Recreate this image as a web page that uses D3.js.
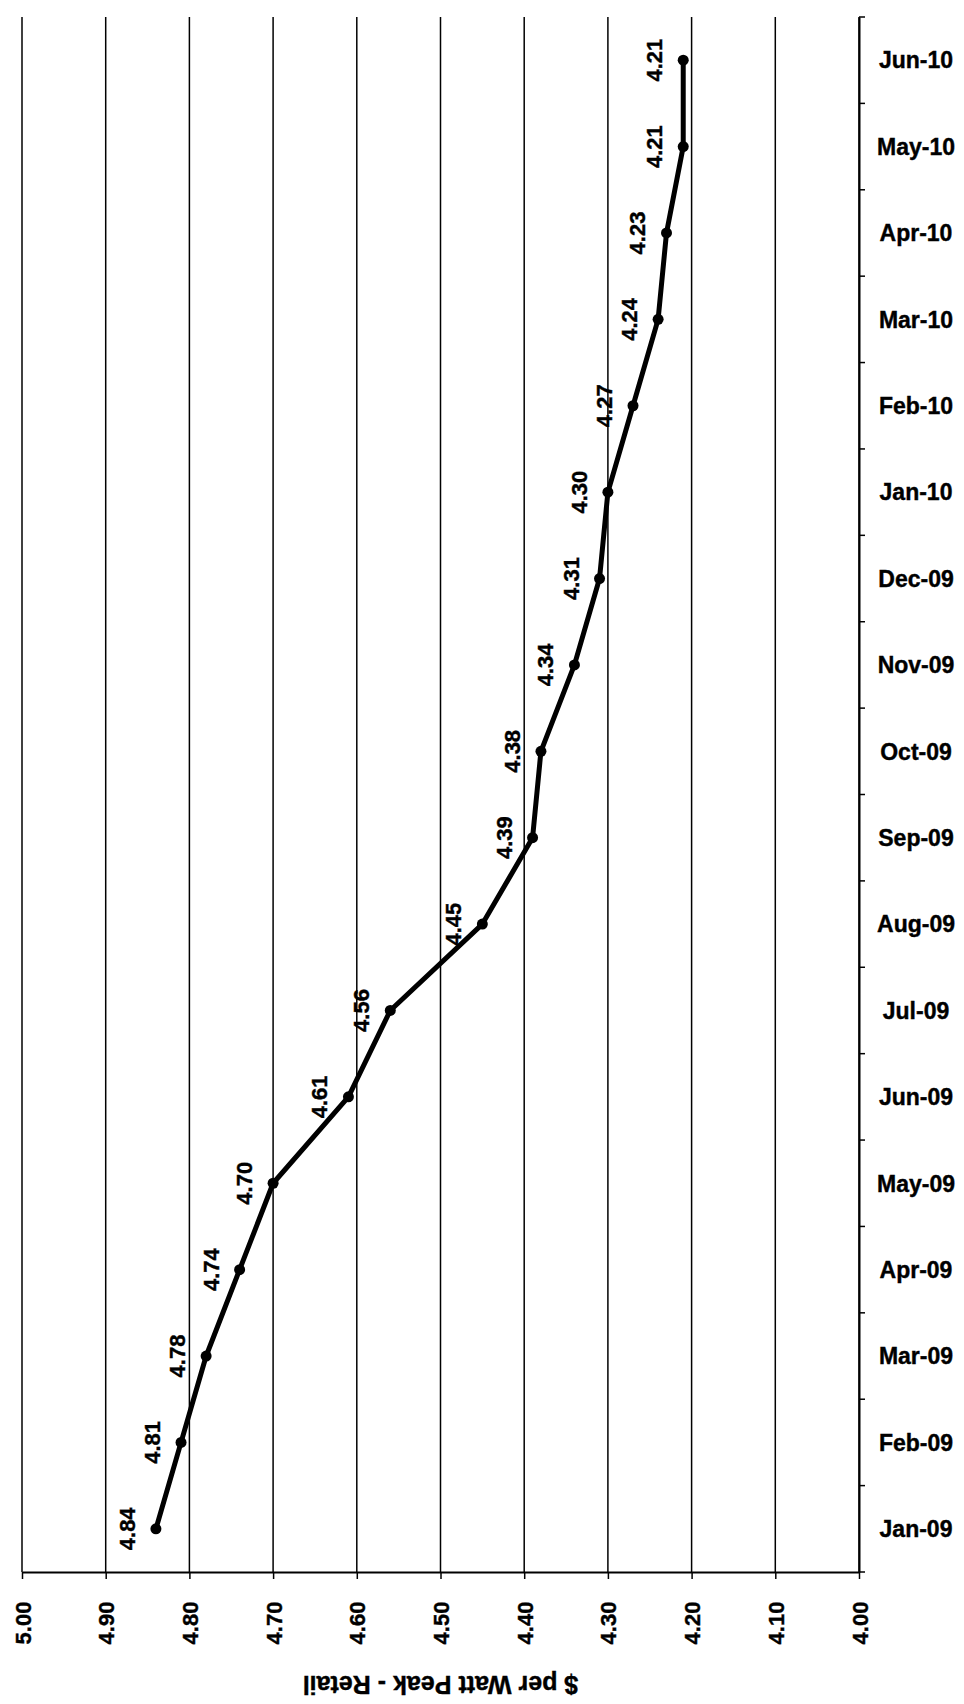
<!DOCTYPE html>
<html>
<head>
<meta charset="utf-8">
<script src="https://cdn.jsdelivr.net/npm/d3@7"></script>
<style>
  html, body { margin: 0; padding: 0; background: #fff; }
  svg { display: block; }
  text { font-family: "Liberation Sans", Arial, sans-serif; font-weight: bold; fill: #000;
         stroke: #000; stroke-width: 0.4px; }
</style>
</head>
<body>
<div id="chart"></div>
<script>
// Monthly retail price, $ per watt peak (chart drawn turned on its side)
const months = ["Jan-09","Feb-09","Mar-09","Apr-09","May-09","Jun-09","Jul-09","Aug-09","Sep-09",
                "Oct-09","Nov-09","Dec-09","Jan-10","Feb-10","Mar-10","Apr-10","May-10","Jun-10"];
const prices = [4.84, 4.81, 4.78, 4.74, 4.70, 4.61, 4.56, 4.45, 4.39,
                4.38, 4.34, 4.31, 4.30, 4.27, 4.24, 4.23, 4.21, 4.21];
const valueTicks = [5.00, 4.90, 4.80, 4.70, 4.60, 4.50, 4.40, 4.30, 4.20, 4.10, 4.00];
const axisTitle = "$ per Watt Peak - Retail";

const W = 964, H = 1704;
const plot = { left: 22, right: 859, top: 17, bottom: 1572 };

const svg = d3.select("#chart").append("svg").attr("width", W).attr("height", H);

const x = d3.scaleLinear().domain([5.0, 4.0]).range([plot.left, plot.right]);
const y = d3.scaleBand().domain(months.slice().reverse()).range([plot.top, plot.bottom]).padding(0);
const cy = m => y(m) + y.bandwidth() / 2;

// vertical gridlines
svg.append("g").selectAll("line").data(valueTicks).join("line")
  .attr("x1", d => x(d)).attr("x2", d => x(d))
  .attr("y1", plot.top).attr("y2", plot.bottom)
  .attr("stroke", "#000").attr("stroke-width", 1.5);

// value axis along the bottom
const xAxis = svg.append("g").attr("transform", `translate(0,${plot.bottom})`)
  .call(d3.axisBottom(x).tickValues(valueTicks).tickFormat(d3.format(".2f")).tickSize(7).tickSizeOuter(0));
xAxis.select(".domain").attr("stroke", "#000").attr("stroke-width", 2);
xAxis.selectAll(".tick line").attr("stroke", "#000").attr("stroke-width", 1.5);
xAxis.selectAll(".tick text")
  .attr("transform", "rotate(-90)")
  .attr("x", -51).attr("y", 8).attr("dy", 0)
  .attr("text-anchor", "middle")
  .style("font-size", "22px");

// category axis along the right
const yAxis = svg.append("g").attr("transform", `translate(${plot.right},0)`)
  .call(d3.axisRight(y).tickSize(0).tickPadding(0).tickSizeOuter(0));
yAxis.select(".domain").attr("stroke", "#000").attr("stroke-width", 2);
yAxis.selectAll(".tick text")
  .attr("x", 916 - plot.right).attr("dy", "0.36em")
  .attr("text-anchor", "middle")
  .style("font-size", "23px");

// category boundary tick marks
const bounds = d3.range(months.length + 1).map(i => plot.top + i * y.step());
svg.append("g").selectAll("line").data(bounds).join("line")
  .attr("x1", plot.right).attr("x2", plot.right + 6)
  .attr("y1", d => d).attr("y2", d => d)
  .attr("stroke", "#000").attr("stroke-width", 1.5);

// price line
const series = months.map((m, i) => ({ m, v: prices[i] }));
svg.append("path").datum(series)
  .attr("fill", "none").attr("stroke", "#000").attr("stroke-width", 5)
  .attr("stroke-linejoin", "round")
  .attr("d", d3.line().x(d => x(d.v)).y(d => cy(d.m)));

svg.append("g").selectAll("circle").data(series).join("circle")
  .attr("cx", d => x(d.v)).attr("cy", d => cy(d.m)).attr("r", 5.5)
  .attr("fill", "#000");

// value labels
svg.append("g").selectAll("text").data(series).join("text")
  .attr("transform", d => `translate(${x(d.v) - 21},${cy(d.m)}) rotate(-90)`)
  .attr("text-anchor", "middle")
  .style("font-size", "22px")
  .text(d => d3.format(".2f")(d.v));

// axis title, upside down
svg.append("text")
  .attr("transform", `translate(${(plot.left + plot.right) / 2},1676) rotate(180)`)
  .attr("text-anchor", "middle")
  .style("font-size", "25px")
  .text(axisTitle);
</script>
</body>
</html>
